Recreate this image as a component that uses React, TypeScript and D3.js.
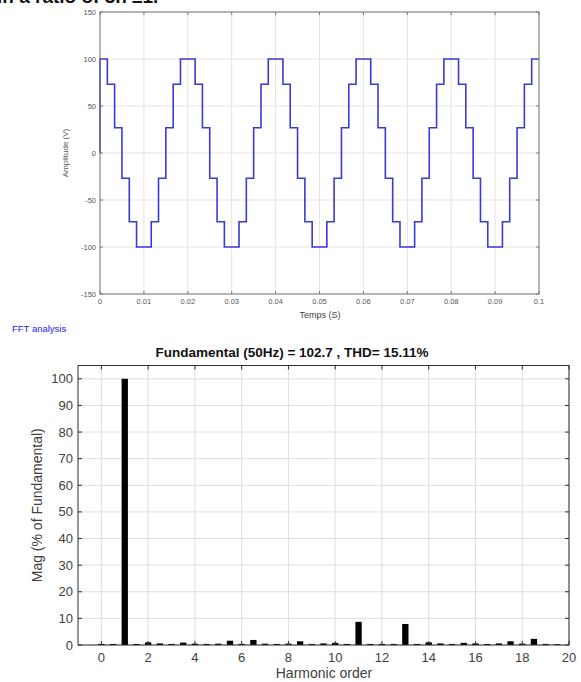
import React from 'react';
import * as d3 from 'd3';

// Staircase output voltage (time in ms, amplitude in V)
const waveTimesMs = [
  0, 0, 1.67, 3.33, 5, 6.67, 8.33, 11.67, 13.33, 15, 16.67, 18.33,
  21.67, 23.33, 25, 26.67, 28.33, 31.67, 33.33, 35, 36.67, 38.33,
  41.67, 43.33, 45, 46.67, 48.33, 51.67, 53.33, 55, 56.67, 58.33,
  61.67, 63.33, 65, 66.67, 68.33, 71.67, 73.33, 75, 76.67, 78.33,
  81.67, 83.33, 85, 86.67, 88.33, 91.67, 93.33, 95, 96.67, 98.33, 100,
];
const waveLevels = [
  0, 100, 73.2, 26.8, -26.8, -73.2, -100, -73.2, -26.8, 26.8, 73.2, 100,
  73.2, 26.8, -26.8, -73.2, -100, -73.2, -26.8, 26.8, 73.2, 100,
  73.2, 26.8, -26.8, -73.2, -100, -73.2, -26.8, 26.8, 73.2, 100,
  73.2, 26.8, -26.8, -73.2, -100, -73.2, -26.8, 26.8, 73.2, 100,
  73.2, 26.8, -26.8, -73.2, -100, -73.2, -26.8, 26.8, 73.2, 100, 100,
];
const timeTicks = [0, 0.01, 0.02, 0.03, 0.04, 0.05, 0.06, 0.07, 0.08, 0.09, 0.1];
const amplitudeTicks = [-150, -100, -50, 0, 50, 100, 150];

// FFT spectrum (% of fundamental)
const harmonicOrders = [
  0, 0.5, 1, 1.5, 2, 2.5, 3, 3.5, 4, 4.5, 5, 5.5, 6, 6.5, 7, 7.5, 8, 8.5, 9, 9.5,
  10, 10.5, 11, 11.5, 12, 12.5, 13, 13.5, 14, 14.5, 15, 15.5, 16, 16.5, 17, 17.5, 18, 18.5, 19, 19.5,
];
const harmonicMags = [
  0.4, 0.4, 100, 0.4, 1.0, 0.6, 0.4, 0.9, 0.5, 0.4, 0.5, 1.6, 0.4, 1.9, 0.5, 0.4, 0.5, 1.4, 0.4, 0.6,
  0.8, 0.4, 8.7, 0.4, 0.4, 0.4, 7.9, 0.4, 1.0, 0.6, 0.4, 0.8, 0.6, 0.4, 0.6, 1.4, 0.5, 2.3, 0.4, 0.3,
];
const orderTicks = [0, 2, 4, 6, 8, 10, 12, 14, 16, 18, 20];
const magTicks = [0, 10, 20, 30, 40, 50, 60, 70, 80, 90, 100];

const FONT = 'Liberation Sans, Arial, sans-serif';

function WavePlot() {
  const x = d3.scaleLinear().domain([0, 0.1]).range([100, 539]);
  const y = d3.scaleLinear().domain([-150, 150]).range([294, 12]);
  const pts: [number, number][] = waveTimesMs.map((t, i) => [t / 1000, waveLevels[i]]);
  const line = d3.line<[number, number]>()
    .x((d) => x(d[0]))
    .y((d) => y(d[1]))
    .curve(d3.curveStepAfter);
  const axisColor = '#7a7a7a';
  const labelColor = '#555';

  return (
    <g>
      {timeTicks.map((t) => (
        <line key={'gx' + t} x1={x(t)} x2={x(t)} y1={y(150)} y2={y(-150)} stroke="#e3e3e3" />
      ))}
      {amplitudeTicks.map((v) => (
        <line key={'gy' + v} x1={x(0)} x2={x(0.1)} y1={y(v)} y2={y(v)} stroke="#e3e3e3" />
      ))}
      <path d={line(pts) || ''} fill="none" stroke="#3a3ad8" strokeWidth={1.6} />
      <rect x={x(0)} y={y(150)} width={x(0.1) - x(0)} height={y(-150) - y(150)} fill="none" stroke={axisColor} />
      {timeTicks.map((t) => (
        <g key={'tx' + t}>
          <line x1={x(t)} x2={x(t)} y1={y(-150)} y2={y(-150) - 3} stroke={axisColor} />
          <line x1={x(t)} x2={x(t)} y1={y(150)} y2={y(150) + 3} stroke={axisColor} />
          <text x={x(t)} y={y(-150) + 10} textAnchor="middle" fontSize={7.5} fill={labelColor} fontFamily={FONT}>
            {t}
          </text>
        </g>
      ))}
      {amplitudeTicks.map((v) => (
        <g key={'ty' + v}>
          <line x1={x(0)} x2={x(0) + 3} y1={y(v)} y2={y(v)} stroke={axisColor} />
          <line x1={x(0.1)} x2={x(0.1) - 3} y1={y(v)} y2={y(v)} stroke={axisColor} />
          <text x={x(0) - 4} y={y(v) + 2.5} textAnchor="end" fontSize={7.5} fill={labelColor} fontFamily={FONT}>
            {v}
          </text>
        </g>
      ))}
      <text x={320} y={318} textAnchor="middle" fontSize={9} fill="#444" fontFamily={FONT}>Temps (S)</text>
      <text
        transform={`translate(68,${y(0)}) rotate(-90)`}
        textAnchor="middle"
        fontSize={8}
        fill="#555"
        fontFamily={FONT}
      >
        Amplitude (V)
      </text>
    </g>
  );
}

function FftPlot() {
  const x = d3.scaleLinear().domain([-1, 20]).range([78, 569]);
  const y = d3.scaleLinear().domain([0, 105]).range([645, 365.5]);
  const barW = x(0.27) - x(0);
  const axisColor = '#2e2e2e';

  return (
    <g fontFamily={FONT}>
      {orderTicks.map((t) => (
        <line key={'gx' + t} x1={x(t)} x2={x(t)} y1={y(0)} y2={y(105)} stroke="#dedede" />
      ))}
      {magTicks.map((v) => (
        <line key={'gy' + v} x1={x(-1)} x2={x(20)} y1={y(v)} y2={y(v)} stroke="#dedede" />
      ))}
      {harmonicOrders.map((h, i) => (
        <rect
          key={'b' + h}
          x={x(h) - barW / 2}
          y={y(harmonicMags[i])}
          width={barW}
          height={y(0) - y(harmonicMags[i])}
          fill="#000"
        />
      ))}
      <rect x={x(-1)} y={y(105)} width={x(20) - x(-1)} height={y(0) - y(105)} fill="none" stroke={axisColor} />
      {orderTicks.map((t) => (
        <g key={'tx' + t}>
          <line x1={x(t)} x2={x(t)} y1={y(0)} y2={y(0) - 4} stroke={axisColor} />
          <line x1={x(t)} x2={x(t)} y1={y(105)} y2={y(105) + 4} stroke={axisColor} />
          <text x={x(t)} y={662} textAnchor="middle" fontSize={13} fill="#404040">{t}</text>
        </g>
      ))}
      {magTicks.map((v) => (
        <g key={'ty' + v}>
          <line x1={x(-1)} x2={x(-1) + 4} y1={y(v)} y2={y(v)} stroke={axisColor} />
          <line x1={x(20)} x2={x(20) - 4} y1={y(v)} y2={y(v)} stroke={axisColor} />
          <text x={x(-1) - 5} y={y(v) + 4.5} textAnchor="end" fontSize={13} fill="#404040">{v}</text>
        </g>
      ))}
      <text x={292} y={357} textAnchor="middle" fontSize={13.5} fontWeight="bold" fill="#111">
        Fundamental (50Hz) = 102.7 , THD= 15.11%
      </text>
      <text x={324} y={678} textAnchor="middle" fontSize={14} fill="#404040">Harmonic order</text>
      <text
        transform={`translate(42,${y(52.5)}) rotate(-90)`}
        textAnchor="middle"
        fontSize={14}
        fill="#404040"
      >
        Mag (% of Fundamental)
      </text>
    </g>
  );
}

export default function App() {
  return (
    <svg
      width={581}
      height={682}
      style={{ position: 'absolute', left: 0, top: 0, background: '#fff' }}
    >
      <rect width={581} height={682} fill="#fff" />
      <text x={-3} y={3} fontSize={19} fontWeight="bold" fill="#111" fontFamily={FONT}>
        in a ratio of 3n ±1.
      </text>
      <WavePlot />
      <text x={12} y={332} fontSize={9.5} fill="#1a1aff" fontFamily={FONT}>FFT analysis</text>
      <FftPlot />
    </svg>
  );
}
